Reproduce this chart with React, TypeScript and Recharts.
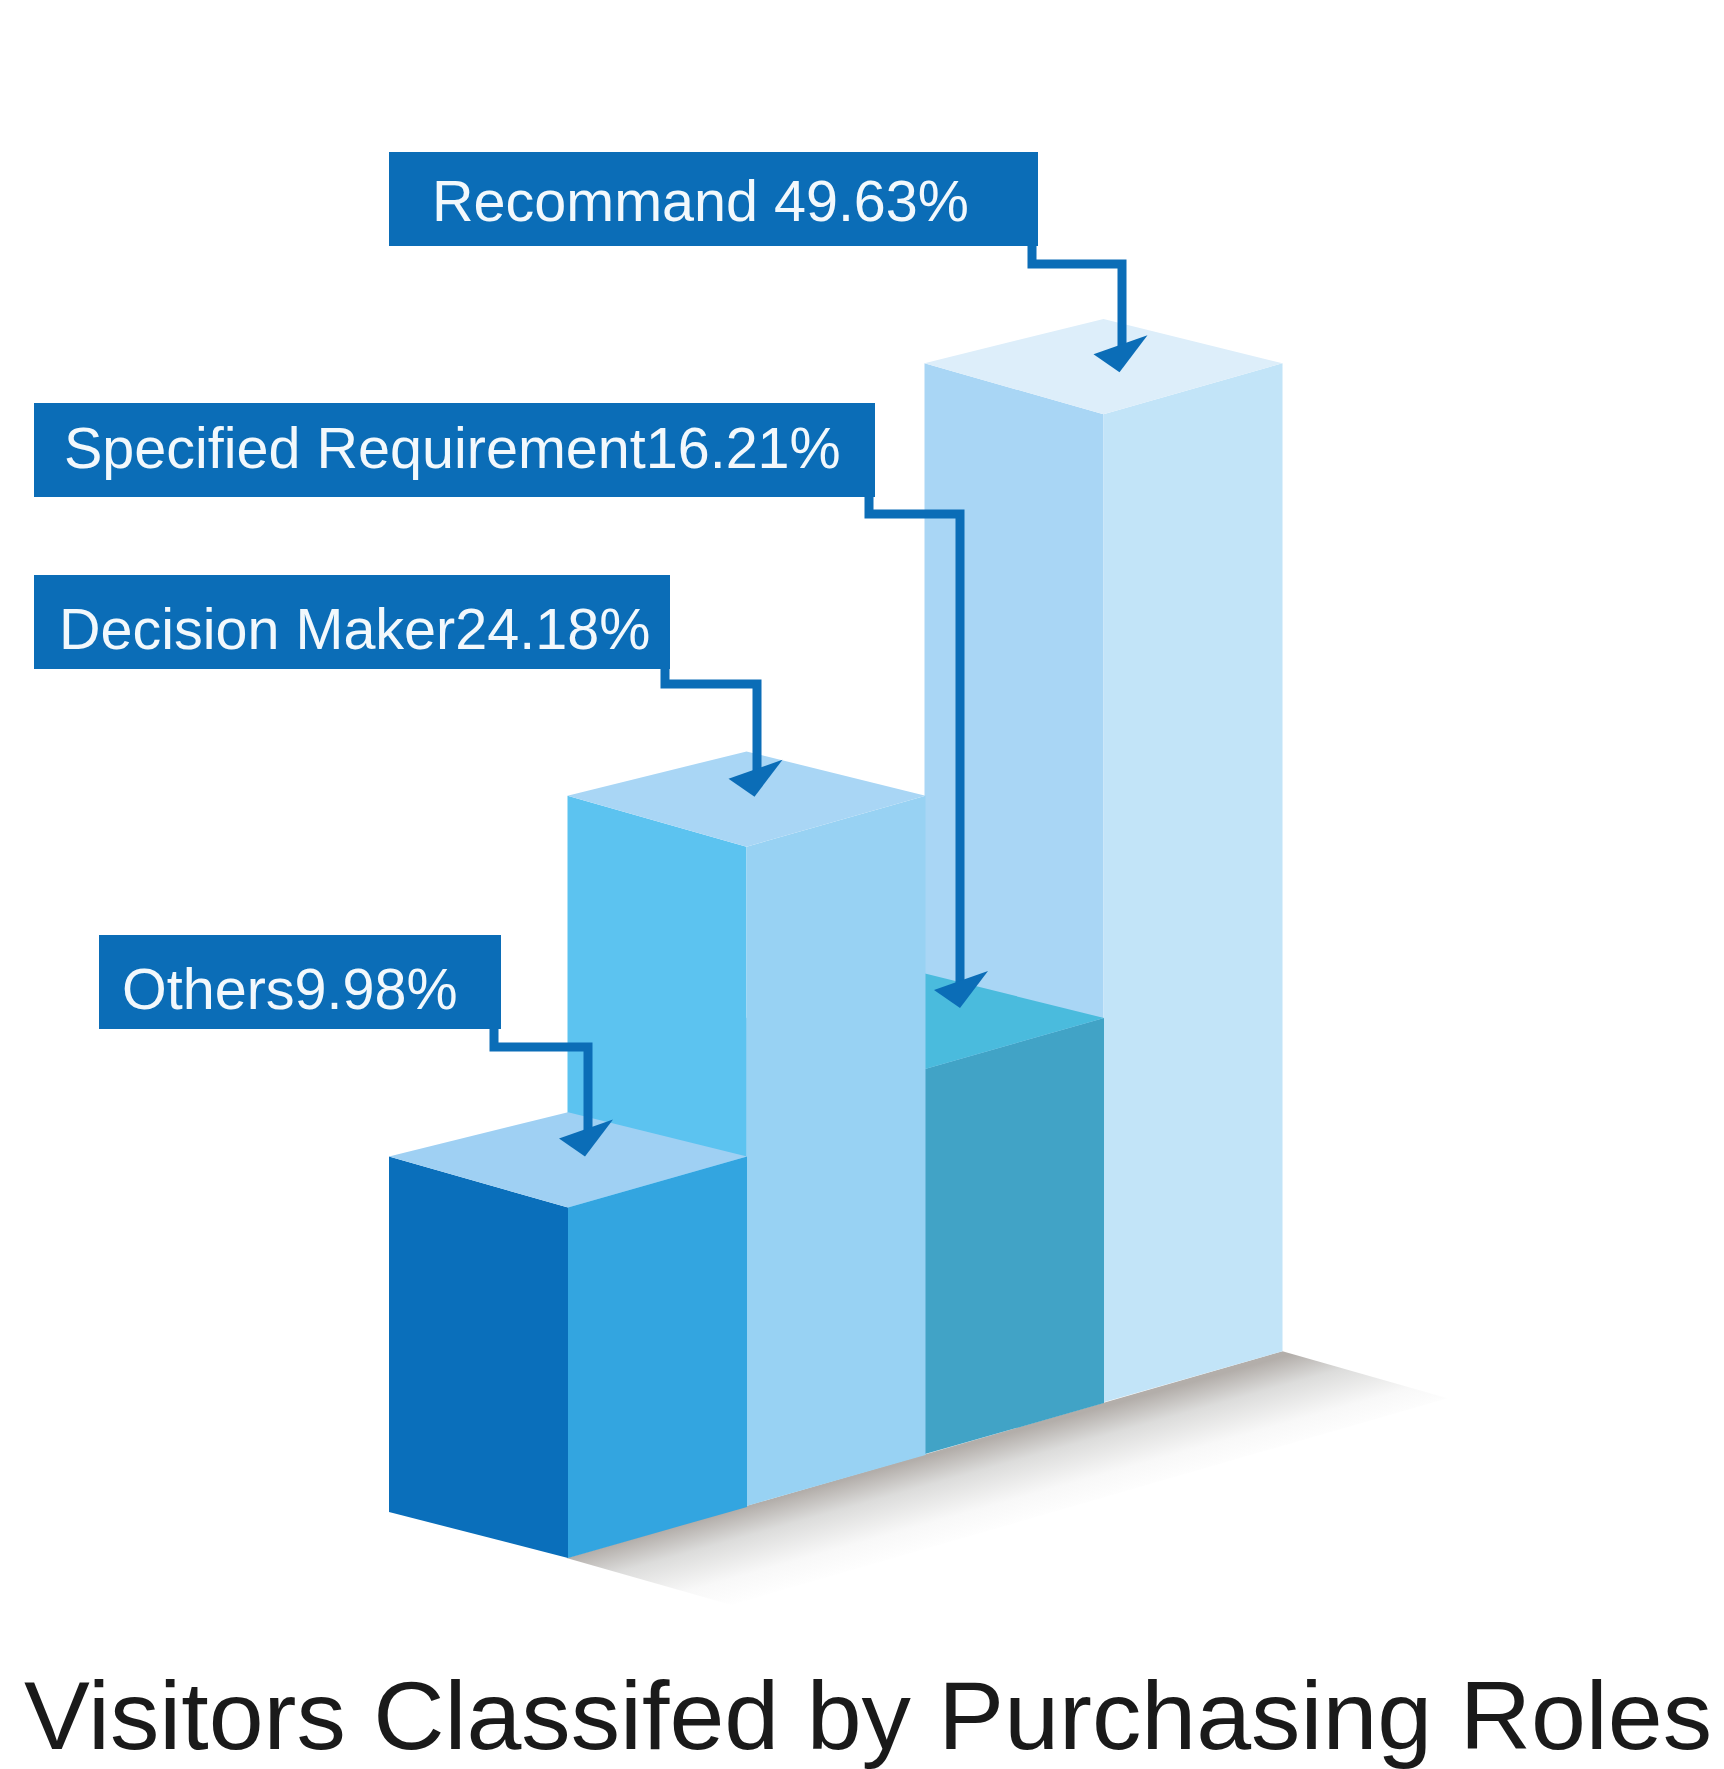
import { BarChart, Bar, XAxis, YAxis, LabelList } from 'recharts';

// back to front, so the nearer boxes paint over the farther ones
const categories = ['Recommand', 'Specified Requirement', 'Decision Maker', 'Others'];
const shares = ['49.63%', '16.21%', '24.18%', '9.98%'];
const separators = [' ', '', '', ''];
// drawn height of each column, as % of the tallest one (the picture is not to scale with the shares)
const drawnHeights = [100, 39.3, 66.9, 35.8];

const topColors = ['#DDEEFA', '#4ABBDD', '#A9D6F5', '#9FD0F3'];
const leftColors = ['#A9D6F5', '#98D2F3', '#5CC3F0', '#0A6FBB'];
const rightColors = ['#C2E4F8', '#41A3C6', '#98D2F3', '#33A5E0'];

const BOX_BLUE = '#0B6DB7';
const WIDTH = 1724;
const HEIGHT = 1769;
const SLOPE = 0.2848; // iso slope of the box faces
const RISE = 0.29; // how far each column climbs per step back

// callout layout: box, where the elbow runs, and where the arrow lands relative to the top face centre
const boxes = [
  { x: 389, y: 152, w: 649, h: 94, textX: 432, baseline: 221, elbowX: 1032, elbowY: 264, stemX: 1122, tipDx: 16, tipDy: 9 },
  { x: 34, y: 403, w: 841, h: 94, textX: 64, baseline: 468, elbowX: 869, elbowY: 514, stemX: 960, tipDx: 35, tipDy: -10 },
  { x: 34, y: 575, w: 636, h: 94, textX: 59, baseline: 649, elbowX: 665, elbowY: 684, stemX: 757, tipDx: 8, tipDy: 1 },
  { x: 99, y: 935, w: 402, h: 94, textX: 122, baseline: 1009, elbowX: 494, elbowY: 1047, stemX: 588, tipDx: 17, tipDy: 0 },
];

const data = categories.map((name, i) => ({
  name,
  height: drawnHeights[i],
  label: `${name}${separators[i]}${shares[i]}`,
}));

const pts = (list: number[][]) => list.map((p) => p.join(',')).join(' ');

function IsoColumn(props: any) {
  const { x, y, width: w, height: h, index } = props;
  const steps = categories.length - 1;
  const top = y - (steps - index) * w * RISE;
  const bottom = top + h;
  const dy = w * SLOPE;
  const frontX = x + w;
  const rightX = x + 2 * w;
  // the base is a little flatter than the top face
  const frontBottom = bottom + dy * 0.9;
  const rightBottom = bottom - dy * 0.1;

  // the shadow sits under everything, so it goes in with the rearmost column
  let shadow = null;
  if (index === 0) {
    const nearX = frontX - steps * w;
    const nearY = frontBottom + steps * w * RISE;
    const reach = [165, 47];
    shadow = (
      <g>
        <defs>
          <linearGradient
            id="floorShadow"
            gradientUnits="userSpaceOnUse"
            x1={nearX}
            y1={nearY}
            x2={nearX + 25}
            y2={nearY + 89}
          >
            <stop offset="0%" stopColor="#b3aeaa" />
            <stop offset="30%" stopColor="#dcdcdb" />
            <stop offset="70%" stopColor="#f8f8f8" />
            <stop offset="100%" stopColor="#ffffff" />
          </linearGradient>
        </defs>
        <polygon
          fill="url(#floorShadow)"
          points={pts([
            [nearX, nearY],
            [rightX, rightBottom],
            [rightX + reach[0], rightBottom + reach[1]],
            [nearX + reach[0], nearY + reach[1]],
          ])}
        />
      </g>
    );
  }

  return (
    <g>
      {shadow}
      <polygon
        fill={leftColors[index]}
        points={pts([[x, top], [frontX, top + dy], [frontX, frontBottom], [x, bottom]])}
      />
      <polygon
        fill={rightColors[index]}
        points={pts([[frontX, top + dy], [rightX, top], [rightX, rightBottom], [frontX, frontBottom]])}
      />
      <polygon
        fill={topColors[index]}
        points={pts([[x, top], [frontX, top - dy * 0.87], [rightX, top], [frontX, top + dy]])}
      />
    </g>
  );
}

function Callout(props: any) {
  const { x, y, width: w, index, value } = props;
  const b = boxes[index];
  const tipX = x + w + b.tipDx;
  const tipY = y - (categories.length - 1 - index) * w * RISE + b.tipDy;
  return (
    <g>
      <rect x={b.x} y={b.y} width={b.w} height={b.h} fill={BOX_BLUE} />
      <text
        x={b.textX}
        y={b.baseline}
        fill="#F2F8FC"
        fontSize={57.5}
        fontFamily="'Liberation Sans', Arial, sans-serif"
      >
        {value}
      </text>
      <polyline
        fill="none"
        stroke={BOX_BLUE}
        strokeWidth={9}
        points={pts([
          [b.elbowX, b.y + b.h - 2],
          [b.elbowX, b.elbowY],
          [b.stemX, b.elbowY],
          [b.stemX, tipY - 25],
        ])}
      />
      <polygon
        fill={BOX_BLUE}
        points={pts([[tipX, tipY], [tipX - 26, tipY - 18], [tipX + 28, tipY - 37]])}
      />
    </g>
  );
}

export default function App() {
  return (
    <div style={{ position: 'absolute', left: 0, top: 0, width: WIDTH, height: HEIGHT, background: '#fff' }}>
      <BarChart
        width={WIDTH}
        height={HEIGHT}
        data={data}
        barCategoryGap={0}
        margin={{ top: 519, right: 621, bottom: 257, left: 389 }}
      >
        <XAxis dataKey="name" hide reversed />
        <YAxis hide domain={[0, 100]} />
        <Bar dataKey="height" shape={IsoColumn} isAnimationActive={false}>
          <LabelList dataKey="label" content={Callout} />
        </Bar>
        <text
          x={24}
          y={1749}
          fill="#1a1a1a"
          fontSize={96}
          textLength={1688}
          lengthAdjust="spacingAndGlyphs"
          fontFamily="'Liberation Sans', Arial, sans-serif"
        >
          Visitors Classifed by Purchasing Roles
        </text>
      </BarChart>
    </div>
  );
}
